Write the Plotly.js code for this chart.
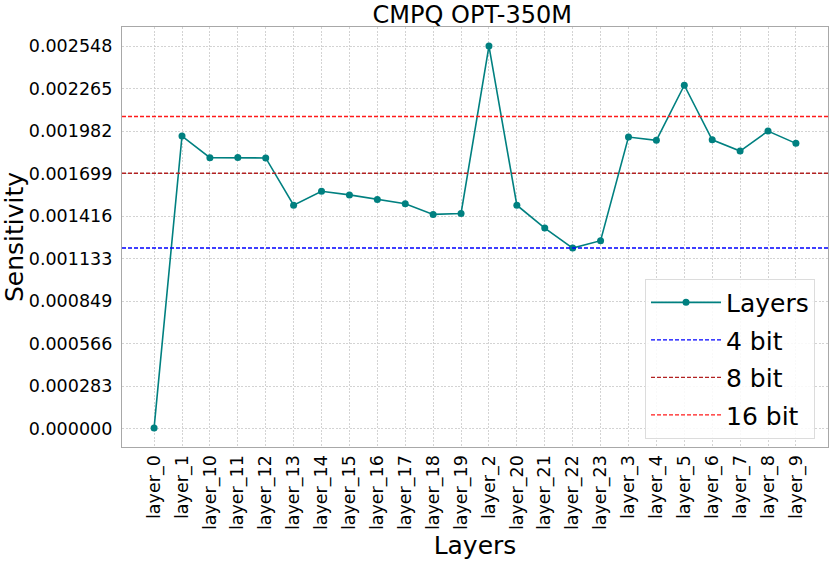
<!DOCTYPE html>
<html>
<head>
<meta charset="utf-8">
<script src="https://cdn.plot.ly/plotly-3.0.1.min.js"></script>
<style>html,body{margin:0;padding:0;background:#fff;}#chart{width:830px;height:561px;}</style>
</head>
<body>
<div id="chart"></div>
<script>
const layers = ['layer_0','layer_1','layer_10','layer_11','layer_12','layer_13','layer_14','layer_15','layer_16','layer_17','layer_18','layer_19','layer_2','layer_20','layer_21','layer_22','layer_23','layer_3','layer_4','layer_5','layer_6','layer_7','layer_8','layer_9'];
const sensitivity = [0.000005,0.001949,0.001805,0.001806,0.001803,0.001488,0.001581,0.001557,0.001526,0.001498,0.001427,0.001433,0.002548,0.001488,0.001336,0.001203,0.001252,0.001942,0.001920,0.002287,0.001924,0.001849,0.001982,0.001900];
const thresholdNames = ['4 bit','8 bit','16 bit'];
const thresholdValues = [0.001203,0.001701,0.002079];
const thresholdColors = ['#0000ff','#b22222','#ff1a1a'];
const yTickLabels = ['0.000000','0.000283','0.000566','0.000849','0.001133','0.001416','0.001699','0.001982','0.002265','0.002548'];

const font = 'DejaVu Sans, sans-serif';
const traces = [{
  x: layers, y: sensitivity, type: 'scatter', mode: 'lines+markers', name: 'Layers',
  line: {color: '#008080', width: 1.6}, marker: {color: '#008080', size: 7},
  legendrank: 1, legendgroup: 'g0'
}];
const shapes = thresholdValues.map((v, i) => ({
  type: 'line', xref: 'paper', x0: 0, x1: 1, yref: 'y', y0: v, y1: v,
  line: {color: thresholdColors[i], width: 1.4, dash: '4px,2px'},
  showlegend: true, name: thresholdNames[i], legendrank: i + 2, legendgroup: 'g' + (i + 1), layer: 'above'
}));
const layout = {
  width: 830, height: 561,
  margin: {l: 122, r: 2, t: 27, b: 114},
  paper_bgcolor: '#fff', plot_bgcolor: '#fff',
  font: {family: font, color: '#000'},
  title: {text: 'CMPQ OPT-350M', font: {family: font, size: 24, color: '#000'}, x: 0.569, xanchor: 'center', y: 0.974, yanchor: 'middle'},
  xaxis: {
    type: 'category', range: [-1.15, 24.15], tickangle: -90,
    tickfont: {family: font, size: 17.5, color: '#000'},
    showgrid: true, gridcolor: '#c8c8c8', griddash: '2px,1.5px', gridwidth: 0.8,
    showline: true, linecolor: '#a8a8a8', linewidth: 1.2, mirror: true,
    ticks: '', ticklen: 0, zeroline: false,
    title: {text: 'Layers', font: {family: font, size: 25, color: '#000'}, standoff: 7}
  },
  yaxis: {
    range: [-0.000122, 0.002675],
    tickvals: yTickLabels.map(Number), ticktext: yTickLabels,
    tickfont: {family: font, size: 17.5, color: '#000'},
    showgrid: true, gridcolor: '#c8c8c8', griddash: '2px,1.5px', gridwidth: 0.8,
    showline: true, linecolor: '#a8a8a8', linewidth: 1.2, mirror: true,
    ticks: 'outside', ticklen: 5, tickcolor: 'rgba(0,0,0,0)', zeroline: false,
    title: {text: 'Sensitivity', font: {family: font, size: 25, color: '#000'}, standoff: 5}
  },
  shapes: shapes,
  showlegend: true,
  legend: {
    x: 0.9816, xanchor: 'right', y: 0.02, yanchor: 'bottom',
    bgcolor: 'rgba(255,255,255,0.85)', bordercolor: '#dcdcdc', borderwidth: 1,
    font: {family: font, size: 25, color: '#000'}, itemwidth: 70, tracegroupgap: 2
  }
};
Plotly.newPlot('chart', traces, layout, {displayModeBar: false, staticPlot: true});
</script>
</body>
</html>
